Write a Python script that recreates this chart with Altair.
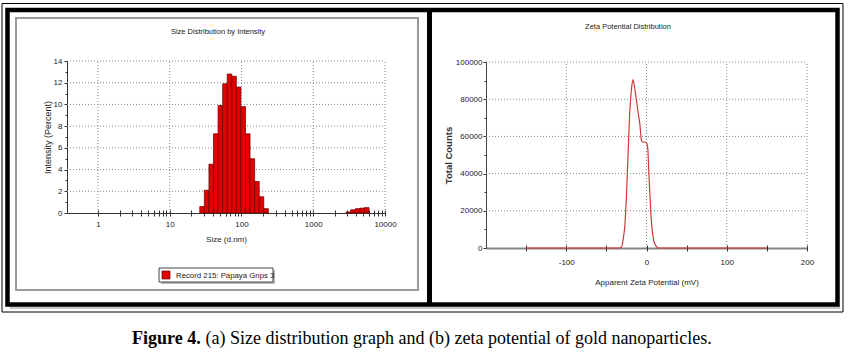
import altair as alt
import pandas as pd

FONT = "Liberation Sans"
SERIF = "Liberation Serif"

# ---------------- panel (a): size distribution by intensity ----------------
size_nm = [28.21, 32.67, 37.84, 43.82, 50.75, 58.77, 68.06, 78.82, 91.28, 105.7,
           122.4, 141.8, 164.2, 190.1, 220.2, 3091, 3580, 4145, 4801, 5560]
intensity_pct = [0.6, 2.1, 4.5, 7.3, 9.9, 11.9, 12.8, 12.6, 11.6, 9.8,
                 7.3, 5.0, 2.9, 1.5, 0.4, 0.1, 0.3, 0.4, 0.45, 0.5]
bin_ratio = 1.158
size_ticks = [1, 10, 100, 1000, 10000]
size_minor = [2, 3, 4, 5, 6, 7, 8, 9,
              20, 30, 40, 50, 60, 70, 80, 90,
              200, 300, 400, 500, 600, 700, 800, 900,
              2000, 3000, 4000, 5000, 6000, 7000, 8000, 9000]
pct_ticks = [0, 2, 4, 6, 8, 10, 12, 14]
pct_minor = [1, 3, 5, 7, 9, 11, 13]
pct_grid = [2, 4, 6, 8, 10, 12, 14]
legend_label = "Record 215: Papaya Gnps 3"

# ---------------- panel (b): zeta potential distribution ----------------
zeta_mv = [-150, -35, -31, -29, -27, -25, -23, -21, -19, -17, -15.5, -12.5, -10.5,
           -8.4, -6.3, -5, -2, 0, 1.5, 3, 5, 7, 9, 12, 15, 150]
zeta_counts = [0, 0, 500, 5000, 12000, 28000, 50000, 72000, 84000, 90500, 88000, 79500, 73000,
               67000, 58000, 57000, 57000, 56500, 54000, 40000, 22000, 10000, 4000, 1000, 0, 0]
mv_ticks = [-150, -100, -50, 0, 50, 100, 150, 200]
mv_grid = [-100, 0, 100, 200]
count_ticks = [0, 20000, 40000, 60000, 80000, 100000]
count_minor = [10000, 30000, 50000, 70000, 90000]
count_grid = [20000, 40000, 60000, 80000, 100000]

# ---------------- scales (explicit pixel ranges on one 848x353 canvas) ----------------
LX = alt.Scale(type="log", domain=[0.37, 10000], range=[67, 385], nice=False)
LY = alt.Scale(domain=[0, 14], range=[213, 61], nice=False, zero=False)
RX = alt.Scale(domain=[-200, 200], range=[486, 807], nice=False, zero=False)
RY = alt.Scale(domain=[0, 100000], range=[248, 62], nice=False, zero=False)

one = pd.DataFrame({"k": [0]})
GRID = dict(color="#8a8a8a", strokeDash=[1, 2], strokeWidth=1)
LABEL = dict(labelFont=FONT, labelFontSize=8, labelColor="#222", labelFlush=False, labelOverlap=False)


def box(x, x2, y, y2, **kw):
    return alt.Chart(one).mark_rect(**kw).encode(
        x=alt.value(x), x2=alt.value(x2), y=alt.value(y), y2=alt.value(y2))


def text(t, x, y, **kw):
    return alt.Chart(one).mark_text(text=t, **kw).encode(x=alt.value(x), y=alt.value(y))


def ticks_x(values, scale, offset, size):
    df = pd.DataFrame({"v": values})
    return alt.Chart(df).mark_point(opacity=0).encode(
        x=alt.X("v:Q", scale=scale, axis=alt.Axis(
            orient="bottom", offset=offset, values=values, labels=False, domain=False,
            grid=False, title=None, tickSize=size, tickColor="#333", tickWidth=1)))


def ticks_y(values, scale, offset, size):
    df = pd.DataFrame({"v": values})
    return alt.Chart(df).mark_point(opacity=0).encode(
        y=alt.Y("v:Q", scale=scale, axis=alt.Axis(
            orient="left", offset=offset, values=values, labels=False, domain=False,
            grid=False, title=None, tickSize=size, tickColor="#333", tickWidth=1)))


layers = []

# frames
layers.append(box(2, 843, 3.5, 312, filled=False, stroke="black", strokeWidth=1))
layers.append(box(10, 840, 306, 309, color="#c8c8c8"))
layers.append(box(7.5, 837.5, 10, 304.5, filled=False, stroke="black", strokeWidth=4.5))
layers.append(alt.Chart(one).mark_rule(color="black", strokeWidth=5).encode(
    x=alt.value(429.5), y=alt.value(10), y2=alt.value(304.5)))
layers.append(box(16, 418, 18, 290, filled=False, stroke="#9a9a9a", strokeWidth=2))

# ---- panel (a) ----
lx_df = pd.DataFrame({"v": size_ticks})
layers.append(alt.Chart(lx_df).mark_rule(**GRID).encode(
    x=alt.X("v:Q", scale=LX, axis=None),
    y=alt.YDatum(0, scale=LY, axis=None), y2=alt.Y2Datum(14)))
ly_df = pd.DataFrame({"v": pct_grid})
layers.append(alt.Chart(ly_df).mark_rule(**GRID).encode(
    y=alt.Y("v:Q", scale=LY, axis=None),
    x=alt.XDatum(0.37, scale=LX, axis=None), x2=alt.X2Datum(10000)))

bars = pd.DataFrame({"size": size_nm, "pct": intensity_pct})
bars["lo"] = bars["size"] / bin_ratio ** 0.5
bars["hi"] = bars["size"] * bin_ratio ** 0.5
layers.append(alt.Chart(bars).mark_rect(color="#e00000", stroke="#6a0000", strokeWidth=0.7).encode(
    x=alt.X("lo:Q", scale=LX, axis=alt.Axis(
        orient="bottom", offset=-140, values=size_ticks, labelExpr="'' + datum.value",
        ticks=False, tickSize=0, grid=False, domainColor="#333", domainWidth=1,
        labelPadding=7, title="Size (d.nm)", titleFont=FONT, titleFontSize=8,
        titleFontWeight="normal", titleColor="#222", titlePadding=7, **LABEL)),
    x2="hi:Q",
    y=alt.Y("pct:Q", scale=LY, axis=alt.Axis(
        orient="left", offset=-67, values=pct_ticks, labelExpr="'' + datum.value",
        tickSize=3, tickColor="#333", grid=False, domainColor="#333", domainWidth=1,
        labelPadding=2, title="Intensity (Percent)", titleFont=FONT, titleFontSize=9,
        titleFontWeight="normal", titleColor="#222", titlePadding=1, **LABEL)),
    y2=alt.Y2Datum(0)))
layers.append(ticks_x(size_ticks + size_minor, LX, -143, 6))
layers.append(ticks_y(pct_minor, LY, -67, 2))

layers.append(text("Size Distribution by Intensity", 218, 32, font=FONT, fontSize=7.5, color="#222"))

# legend
layers.append(box(161, 275, 270, 284, color="#b8b8b8"))
layers.append(box(159, 273, 268, 282, color="white", stroke="#444", strokeWidth=1))
layers.append(box(162, 170, 271, 279, color="#e00000", stroke="#6a0000", strokeWidth=0.7))
layers.append(text(legend_label, 176, 275.5, font=FONT, fontSize=7.8, color="#222",
                   align="left", baseline="middle"))

# ---- panel (b) ----
rx_df = pd.DataFrame({"v": mv_grid})
layers.append(alt.Chart(rx_df).mark_rule(**GRID).encode(
    x=alt.X("v:Q", scale=RX, axis=None),
    y=alt.YDatum(0, scale=RY, axis=None), y2=alt.Y2Datum(100000)))
ry_df = pd.DataFrame({"v": count_grid})
layers.append(alt.Chart(ry_df).mark_rule(**GRID).encode(
    y=alt.Y("v:Q", scale=RY, axis=None),
    x=alt.XDatum(-200, scale=RX, axis=None), x2=alt.X2Datum(200)))

zeta = pd.DataFrame({"mv": zeta_mv, "counts": zeta_counts})
layers.append(alt.Chart(zeta).mark_line(color="#d03a3a", strokeWidth=1.2, interpolate="monotone").encode(
    x=alt.X("mv:Q", scale=RX, axis=alt.Axis(
        orient="bottom", offset=-105, values=mv_grid,
        labelExpr="datum.value % 100 == 0 ? '' + datum.value : ''",
        ticks=False, tickSize=0, grid=False, domainColor="#858585", domainWidth=2,
        labelPadding=10, title="Apparent Zeta Potential (mV)", titleFont=FONT, titleFontSize=8,
        titleFontWeight="normal", titleColor="#222", titlePadding=12, **LABEL)),
    y=alt.Y("counts:Q", scale=RY, axis=alt.Axis(
        orient="left", offset=-486, values=count_ticks, labelExpr="'' + datum.value",
        tickSize=3, tickColor="#333", grid=False, domainColor="#444", domainWidth=1,
        labelPadding=1, title="Total Counts", titleFont=FONT, titleFontSize=9.5,
        titleFontWeight="bold", titleColor="#333", titlePadding=2, **LABEL))))
layers.append(ticks_x(mv_ticks, RX, -108, 6))
layers.append(ticks_y(count_minor, RY, -486, 2))

layers.append(text("Zeta Potential Distribution", 628, 27, font=FONT, fontSize=7.5, color="#222"))

# caption
layers.append(text("Figure 4.", 132, 344, font=SERIF, fontSize=18, fontWeight="bold",
                   color="black", align="left", baseline="alphabetic"))
layers.append(text("(a) Size distribution graph and (b) zeta potential of gold nanoparticles.",
                   205.5, 344, font=SERIF, fontSize=18, color="black", align="left",
                   baseline="alphabetic"))

chart = alt.layer(*layers).resolve_scale(
    x="independent", y="independent"
).resolve_axis(
    x="independent", y="independent"
).properties(
    width=848, height=353, padding=0, background="white",
    autosize=alt.AutoSizeParams(type="none"),
).configure_view(stroke=None)

chart.save("out.html", embed_options={"renderer": "svg", "actions": False})
